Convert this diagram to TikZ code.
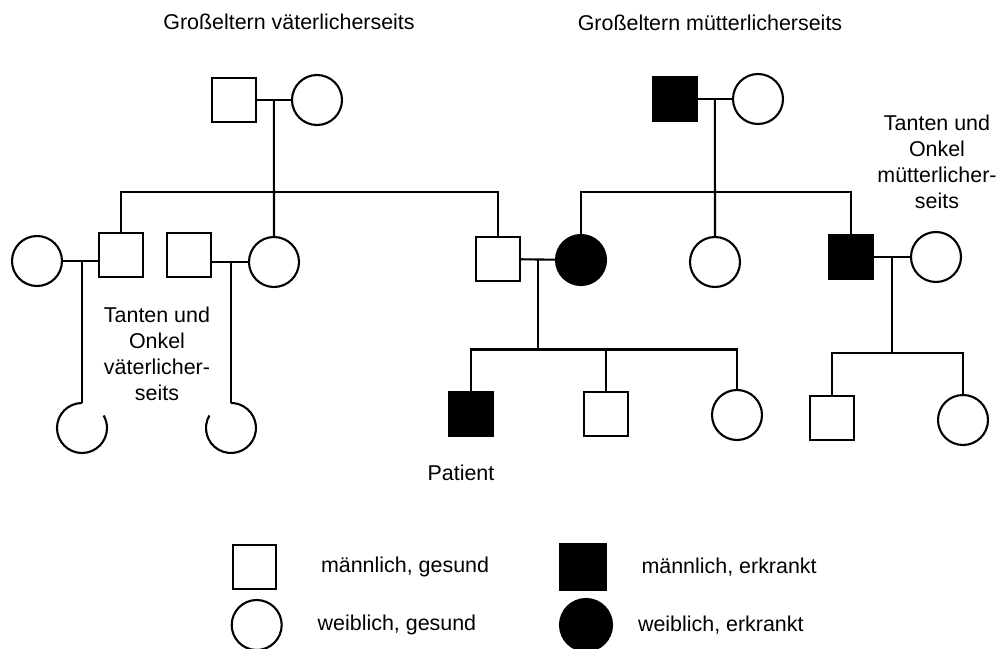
\documentclass[tikz,border=0pt]{standalone}
\usepackage{fontspec}
\setmainfont{Liberation Sans}
\usetikzlibrary{calc,positioning}
\tikzset{
  man/.style={ % healthy male
    draw, rectangle, minimum size=0.87cm,
    inner sep=0pt, outer sep=0pt
  },
  sickman/.style={ % affected male
    man, fill=black
  },
  woman/.style={ % healthy female
    draw, circle, minimum size=1cm,
    inner sep=0pt, outer sep=0pt
  },
  sickwoman/.style={ % affected female
    woman, fill=black
  },
  opencircle/.style={ % female, outline drawn as an arc with a gap
    circle, minimum size=1cm, inner sep=0pt, outer sep=0pt
  },
  caption/.style={
    font=\fontsize{12.2}{14.8}\selectfont, align=center, inner sep=0pt
  }
}

\begin{document}
\begin{tikzpicture}[x=0.02cm, y=-0.02cm, line width=1.2pt]
  \useasboundingbox (0,0) rectangle (1002,649);

  % grandparents
  \node[man] (PGF) at (234,100) {};
  \node[woman] (PGM) at (317,100) {};
  \node[sickman] (MGF) at (675,99) {};
  \node[woman] (MGM) at (758,99) {};
  \node[caption] (pg_label) at (289,22) {Großeltern väterlicherseits};
  \node[caption] (mg_label) at (710,23) {Großeltern mütterlicherseits};

  % paternal side
  \node[woman] (W1) at (37,261) {};
  \node[man] (U1) at (121,255) {};
  \node[man] (U2) at (189,255) {};
  \node[woman] (A1) at (274,262) {};
  \node[man] (F) at (498,259) {};
  \node[opencircle] (C1) at (82,428) {};
  \node[opencircle] (C2) at (231,428) {};
  \node[caption] (pu_label) at (157,354) {Tanten und\\Onkel\\väterlicher-\\seits};

  % maternal side
  \node[sickwoman] (M) at (581,260) {};
  \node[woman] (A2) at (715,262) {};
  \node[sickman] (U3) at (851,257) {};
  \node[woman] (W3) at (936,257) {};
  \node[caption] (mu_label) at (937,162) {Tanten und\\Onkel\\mütterlicher-\\seits};

  % children
  \node[sickman] (P) at (471,414) {};
  \node[man] (B) at (606,414) {};
  \node[woman] (S) at (737,415) {};
  \node[man] (K1) at (832,418) {};
  \node[woman] (K2) at (963,420) {};
  \node[caption] (p_label) at (461,473) {Patient};

  % junctions
  \coordinate (pg) at ($(PGF.east)!0.5!(PGM.west)$);
  \coordinate (pg_sib) at ($(pg)+(0,92)$);
  \coordinate (mg) at ($(MGF.east)!0.5!(MGM.west)$);
  \coordinate (mg_sib) at ($(mg)+(0,93)$);
  \coordinate (fm) at ($(F.east)!0.5!(M.west)$);
  \coordinate (fm_sib) at ($(fm)+(0,90)$);
  \coordinate (u3) at ($(U3.east)!0.5!(W3.west)$);
  \coordinate (u3_sib) at ($(u3)+(0,96)$);

  % paternal lines
  \draw (PGF) -- (PGM);
  \draw (pg) -- (A1);
  \draw (U1) |- (pg_sib) -| (F);
  \draw (W1.east) -- (W1.east -| U1.west);
  \draw (C1) -- (C1 |- W1.east);
  \draw (C1.north) arc[start angle=90, end angle=390, radius=0.5cm];
  \draw (A1.west) -- (A1.west -| U2.east);
  \draw (C2) -- (C2 |- A1.west);
  \draw (C2.150) arc[start angle=150, end angle=450, radius=0.5cm];

  % maternal lines
  \draw (MGF) -- (MGM);
  \draw (mg) -- (A2);
  \draw (M) |- (mg_sib) -| (U3);
  \draw (U3) -- (W3);
  \draw (u3) -- (u3_sib);
  \draw (K1) |- (u3_sib) -| (K2);

  % parents and children
  \draw (F) -- (M);
  \draw (fm) -- (fm_sib);
  \draw (P) |- (fm_sib) -| (S);
  \draw (B) -- (B |- fm_sib);

  % legend
  \node[man] (l_man) at (254.5,567) {};
  \node[caption, right=0.875cm of l_man] (l_man_text) {männlich, gesund};
  \node[woman] (l_woman) at (256.7,625) {};
  \node[caption, right=0.7cm of l_woman] (l_woman_text) {weiblich, gesund};
  \node[sickman, minimum size=0.92cm] (l_sickman) at (583,567) {};
  \node[caption, right=0.69cm of l_sickman] (l_sickman_text) {männlich, erkrankt};
  \node[sickwoman, minimum size=1.04cm] (l_sickwoman) at (586,625) {};
  \node[caption, right=0.5cm of l_sickwoman] (l_sickwoman_text) {weiblich, erkrankt};
\end{tikzpicture}
\end{document}
